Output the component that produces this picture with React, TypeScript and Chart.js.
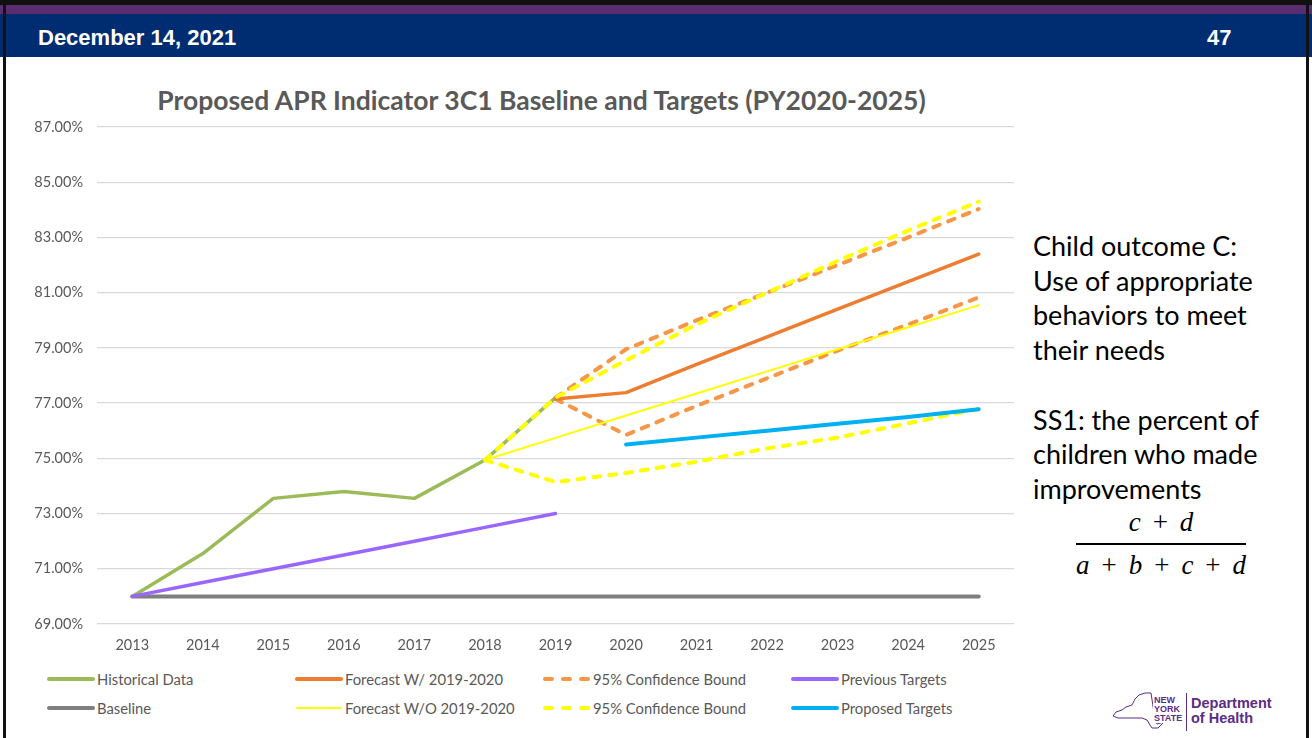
import React, { useEffect, useRef } from "react";
import { Chart, registerables } from "chart.js";

Chart.register(...registerables);

const years = ["2013", "2014", "2015", "2016", "2017", "2018", "2019", "2020", "2021", "2022", "2023", "2024", "2025"];
const yTicks = [69, 71, 73, 75, 77, 79, 81, 83, 85, 87];

const historicalData = [70.0, 71.55, 73.55, 73.8, 73.55, 74.94, 77.2, null, null, null, null, null, null];
const baselineData = [70, 70, 70, 70, 70, 70, 70, 70, 70, 70, 70, 70, 70];
const previousTargets = [70, 70.5, 71, 71.5, 72, 72.5, 73, null, null, null, null, null, null];
const forecastWith = [null, null, null, null, null, null, 77.15, 77.38, 78.4, 79.4, 80.4, 81.4, 82.4];
const ciWithUpper = [null, null, null, null, null, null, 77.2, 78.95, 80.0, 81.0, 82.0, 83.0, 84.03];
const ciWithLower = [null, null, null, null, null, null, 77.15, 75.85, 76.9, 77.9, 78.9, 79.85, 80.83];
const forecastWithout = [null, null, null, null, null, 74.94, 75.74, 76.55, 77.35, 78.15, 78.95, 79.75, 80.55];
const ciWithoutUpper = [null, null, null, null, null, 74.94, 77.2, 78.55, 79.85, 81.0, 82.15, 83.25, 84.3];
const ciWithoutLower = [null, null, null, null, null, 74.94, 74.14, 74.47, 74.88, 75.36, 75.75, 76.27, 76.79];
const proposedTargets = [null, null, null, null, null, null, null, 75.5, 75.75, 76.0, 76.25, 76.5, 76.78];

const GREEN = "#9BBB59";
const GRAY = "#7F7F7F";
const ORANGE = "#ED7D31";
const ORANGE_LIGHT = "#F79646";
const YELLOW = "#FFFF00";
const PURPLE = "#9966FF";
const BLUE = "#00B0F0";
const TEXT_GRAY = "#595959";
const LOGO_PURPLE = "#5B2C86";

type Series = { label: string; data: (number | null)[]; color: string; width: number; dashed: boolean };

// draw order: first = bottom
const seriesList: Series[] = [
  { label: "Historical Data", data: historicalData, color: GREEN, width: 3.5, dashed: false },
  { label: "Baseline", data: baselineData, color: GRAY, width: 4, dashed: false },
  { label: "Previous Targets", data: previousTargets, color: PURPLE, width: 3.5, dashed: false },
  { label: "95% Confidence Bound", data: ciWithUpper, color: ORANGE_LIGHT, width: 4, dashed: true },
  { label: "95% Confidence Bound ", data: ciWithLower, color: ORANGE_LIGHT, width: 4, dashed: true },
  { label: "Forecast W/ 2019-2020", data: forecastWith, color: ORANGE, width: 3.5, dashed: false },
  { label: "Forecast W/O 2019-2020", data: forecastWithout, color: YELLOW, width: 2, dashed: false },
  { label: "95% Confidence Bound  ", data: ciWithoutUpper, color: YELLOW, width: 4, dashed: true },
  { label: "95% Confidence Bound   ", data: ciWithoutLower, color: YELLOW, width: 4, dashed: true },
  { label: "Proposed Targets", data: proposedTargets, color: BLUE, width: 4, dashed: false },
];

const legendItems = [
  { label: "Historical Data", color: GREEN, width: 4, dashed: false },
  { label: "Forecast W/ 2019-2020", color: ORANGE, width: 4, dashed: false },
  { label: "95% Confidence Bound", color: ORANGE_LIGHT, width: 4, dashed: true },
  { label: "Previous Targets", color: PURPLE, width: 4, dashed: false },
  { label: "Baseline", color: GRAY, width: 4, dashed: false },
  { label: "Forecast W/O 2019-2020", color: YELLOW, width: 2, dashed: false },
  { label: "95% Confidence Bound", color: YELLOW, width: 4, dashed: true },
  { label: "Proposed Targets", color: BLUE, width: 4, dashed: false },
];

const chartTitle = "Proposed APR Indicator 3C1 Baseline and Targets (PY2020-2025)";
const tickFont = { family: "Lato", size: 14.5 };

function LineChart() {
  const ref = useRef<HTMLCanvasElement | null>(null);
  useEffect(() => {
    if (!ref.current) return;
    const n = seriesList.length;
    const chart = new Chart(ref.current, {
      type: "line",
      data: {
        labels: years,
        datasets: seriesList.map((s, i) => ({
          label: s.label,
          data: s.data,
          borderColor: s.color,
          backgroundColor: s.color,
          borderWidth: s.width,
          borderDash: s.dashed ? [7, 9] : [],
          borderCapStyle: "round",
          borderJoinStyle: "round",
          pointRadius: 0,
          pointHoverRadius: 0,
          tension: 0,
          fill: false,
          spanGaps: false,
          order: n - i,
        })) as any,
      },
      options: {
        animation: false,
        responsive: false,
        maintainAspectRatio: false,
        layout: { padding: { left: 0, right: 16, top: 55, bottom: 0 } },
        plugins: {
          legend: { display: false },
          tooltip: { enabled: false },
          title: { display: false },
        },
        scales: {
          x: {
            type: "category",
            offset: true,
            grid: { display: false, drawTicks: false },
            border: { display: false },
            ticks: { font: tickFont, color: TEXT_GRAY, padding: 13, maxRotation: 0, autoSkip: false },
            afterFit: (s: any) => {
              s.height = 36;
            },
          },
          y: {
            min: yTicks[0],
            max: yTicks[yTicks.length - 1],
            afterBuildTicks: (s: any) => {
              s.ticks = yTicks.map((v) => ({ value: v }));
            },
            ticks: {
              font: tickFont,
              color: TEXT_GRAY,
              padding: 14,
              callback: (v: any) => Number(v).toFixed(2) + "%",
            },
            grid: { color: "#D9D9D9", lineWidth: 1.3, drawTicks: false },
            border: { display: false },
            afterFit: (s: any) => {
              s.width = 67;
            },
          },
        },
      } as any,
    });
    return () => chart.destroy();
  }, []);
  return <canvas ref={ref} width={1000} height={588} style={{ display: "block", width: 1000, height: 588 }} />;
}

function LegendSample({ color, width, dashed }: { color: string; width: number; dashed: boolean }) {
  return (
    <svg width={50} height={10} style={{ display: "block" }}>
      <line
        x1={3}
        y1={5}
        x2={47}
        y2={5}
        stroke={color}
        strokeWidth={width}
        strokeLinecap="round"
        strokeDasharray={dashed ? "7 11" : undefined}
      />
    </svg>
  );
}

function Logo() {
  return (
    <div style={{ position: "absolute", left: 1110, top: 690, width: 175, height: 44 }}>
      <svg width={60} height={44} style={{ position: "absolute", left: 0, top: 0 }}>
        <path
          d="M3,26 L6,22 L12,20 L16,17 L22,15 L25,9 L29,5 L35,3 L41,3 L43,16 L45,30 L47,34 L54,32 L48,38 L42,38 L40,35 L37,30 L32,28 L8,28 Z"
          fill="none"
          stroke={LOGO_PURPLE}
          strokeWidth={1}
        />
      </svg>
      <div
        style={{
          position: "absolute",
          left: 43,
          top: 6,
          fontFamily: "Liberation Sans, Arial",
          fontWeight: 700,
          fontSize: 9,
          lineHeight: "9px",
          color: LOGO_PURPLE,
          background: "#fff",
          padding: "0 1px",
        }}
      >
        NEW
        <br />
        YORK
        <br />
        STATE
      </div>
      <div style={{ position: "absolute", left: 76, top: 3, width: 1, height: 38, background: LOGO_PURPLE }} />
      <div
        style={{
          position: "absolute",
          left: 81,
          top: 6,
          fontFamily: "Liberation Sans, Arial",
          fontWeight: 700,
          fontSize: 14.5,
          lineHeight: "15px",
          color: LOGO_PURPLE,
          whiteSpace: "nowrap",
        }}
      >
        Department
        <br />
        of Health
      </div>
    </div>
  );
}

export default function App() {
  const plus = <span style={{ fontStyle: "normal", margin: "0 12px" }}>+</span>;
  const mathStyle: React.CSSProperties = {
    position: "absolute",
    left: 1060,
    width: 202,
    textAlign: "center",
    fontFamily: "Liberation Serif, serif",
    fontStyle: "italic",
    fontSize: 27,
    lineHeight: "32px",
    color: "#000",
    whiteSpace: "nowrap",
  };
  return (
    <div
      style={{
        position: "fixed",
        left: 0,
        top: 0,
        width: 1312,
        height: 738,
        background: "#FFFFFF",
        overflow: "hidden",
      }}
    >
      {/* header */}
      <div style={{ position: "absolute", left: 0, top: 0, width: 1312, height: 5, background: "#111" }} />
      <div style={{ position: "absolute", left: 0, top: 5, width: 1312, height: 9, background: "#5A2D71" }} />
      <div style={{ position: "absolute", left: 0, top: 14, width: 1312, height: 43, background: "#002D72" }} />
      <div
        style={{
          position: "absolute",
          left: 38,
          top: 26,
          color: "#FFFFFF",
          fontFamily: "Liberation Sans, Arial",
          fontWeight: 700,
          fontSize: 22,
          lineHeight: "24px",
          whiteSpace: "nowrap",
        }}
      >
        December 14, 2021
      </div>
      <div
        style={{
          position: "absolute",
          left: 1207,
          top: 26,
          color: "#FFFFFF",
          fontFamily: "Liberation Sans, Arial",
          fontWeight: 700,
          fontSize: 22,
          lineHeight: "24px",
        }}
      >
        47
      </div>
      {/* side borders */}
      <div style={{ position: "absolute", left: 3, top: 0, width: 3, height: 738, background: "#111" }} />
      <div style={{ position: "absolute", left: 1306, top: 0, width: 3, height: 738, background: "#111" }} />

      {/* title */}
      <div
        style={{
          position: "absolute",
          left: 140,
          top: 84,
          width: 803,
          textAlign: "center",
          fontFamily: "Lato",
          fontWeight: 700,
          fontSize: 26.5,
          lineHeight: "32px",
          color: TEXT_GRAY,
          whiteSpace: "nowrap",
        }}
      >
        {chartTitle}
      </div>

      {/* chart */}
      <div style={{ position: "absolute", left: 30, top: 72, width: 1000, height: 588 }}>
        <LineChart />
      </div>

      {/* legend */}
      {legendItems.map((it, i) => {
        const col = i % 4;
        const row = Math.floor(i / 4);
        return (
          <div
            key={i}
            style={{
              position: "absolute",
              left: 46 + col * 248,
              top: 679 + row * 29 - 10,
              height: 20,
              display: "flex",
              alignItems: "center",
              whiteSpace: "nowrap",
            }}
          >
            <LegendSample color={it.color} width={it.width} dashed={it.dashed} />
            <span style={{ fontFamily: "Lato", fontSize: 14.8, color: TEXT_GRAY, marginLeft: 1 }}>{it.label}</span>
          </div>
        );
      })}

      {/* right annotation */}
      <div
        style={{
          position: "absolute",
          left: 1033,
          top: 229,
          fontFamily: "Lato",
          fontSize: 27,
          lineHeight: "34.7px",
          color: "#000",
          whiteSpace: "nowrap",
        }}
      >
        Child outcome C:
        <br />
        Use of appropriate
        <br />
        behaviors to meet
        <br />
        their needs
        <br />
        <br />
        SS1: the percent of
        <br />
        children who made
        <br />
        improvements
      </div>
      <div style={{ ...mathStyle, top: 506 }}>
        c{plus}d
      </div>
      <div style={{ position: "absolute", left: 1076, top: 543, width: 170, height: 2, background: "#000" }} />
      <div style={{ ...mathStyle, top: 549 }}>
        a{plus}b{plus}c{plus}d
      </div>

      <Logo />
    </div>
  );
}
